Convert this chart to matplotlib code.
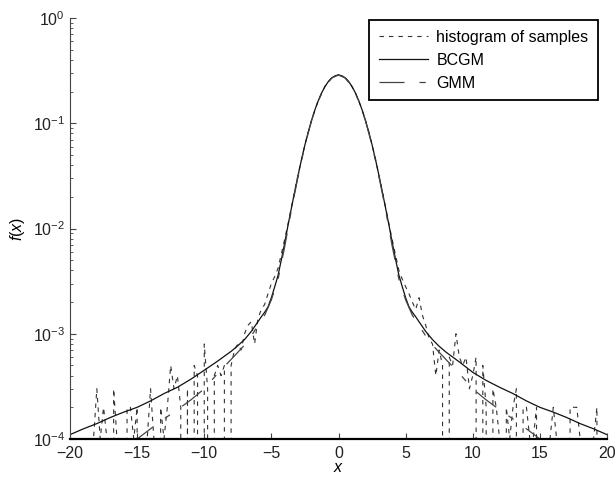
import numpy as np
import matplotlib
matplotlib.use('Agg')
import matplotlib.pyplot as plt

plt.rcParams['font.family'] = ['Liberation Sans', 'DejaVu Sans']
plt.rcParams['mathtext.fontset'] = 'custom'
plt.rcParams['mathtext.rm'] = 'Liberation Sans'
plt.rcParams['mathtext.it'] = 'Liberation Sans:italic'

# BCGM fit (heavy tails)
bcgm_x = [-20, -19, -18, -17, -16, -15, -14, -13, -12, -11, -10, -9, -8, -7.5, -7, -6.5, -6,
          -5.75, -5.5, -5.25, -5, -4.75, -4.5, -4.25, -4, -3.75, -3.5, -3.25, -3, -2.75,
          -2.5, -2.25, -2, -1.75, -1.5, -1.25, -1, -0.75, -0.5, -0.25, 0,
          0.25, 0.5, 0.75, 1, 1.25, 1.5, 1.75, 2, 2.25, 2.5, 2.75, 3, 3.25, 3.5, 3.75,
          4, 4.25, 4.5, 4.75, 5, 5.25, 5.5, 5.75, 6, 6.5, 7, 7.5, 8, 9, 10, 11, 12,
          13, 14, 15, 16, 17, 18, 19, 20]
bcgm_y = [0.00011, 0.000125, 0.00014, 0.00016, 0.00018, 0.00020, 0.00023, 0.00027, 0.00031,
          0.00037, 0.00045, 0.00055, 0.00068, 0.00077, 0.00088, 0.00105, 0.0013,
          0.00145, 0.0016, 0.0018, 0.0022, 0.0028, 0.0036, 0.0051, 0.0074, 0.0109,
          0.0158, 0.0228, 0.0325, 0.0456, 0.0624, 0.0829, 0.1073, 0.1349, 0.1646,
          0.1950, 0.2241, 0.2497, 0.2698, 0.2826, 0.287,
          0.2826, 0.2698, 0.2497, 0.2241, 0.1950, 0.1646, 0.1349, 0.1073, 0.0829,
          0.0624, 0.0456, 0.0325, 0.0228, 0.0158, 0.0109, 0.0074, 0.0051, 0.0036,
          0.0028, 0.0022, 0.0018, 0.0016, 0.00145, 0.0013, 0.00105, 0.00088, 0.00076,
          0.00067, 0.00054, 0.00043, 0.00036, 0.00031, 0.00027, 0.00023, 0.00020,
          0.00018, 0.00016, 0.00014, 0.000125, 0.00011]

# GMM fit (lighter tails)
gmm_x = [-20, -19, -18, -17, -16, -15, -14, -13, -12, -11, -10, -9, -8, -7, -6.5, -6, -5.5,
         -5, -4.5, -4, -3.5, -3, -2.5, -2, -1.5, -1, -0.5, 0, 0.5, 1, 1.5, 2, 2.5, 3,
         3.5, 4, 4.5, 5, 5.5, 6, 6.5, 7, 8, 9, 10, 11, 12, 13, 14, 15, 16, 17, 18, 19, 20]
gmm_y = [0.00003, 0.00004, 0.00005, 0.000065, 0.00008, 0.0001, 0.000125, 0.000155, 0.00019,
         0.000235, 0.0003, 0.00042, 0.00057, 0.00078, 0.00095, 0.0012, 0.0015,
         0.0021, 0.0033, 0.0068, 0.0152, 0.0318, 0.0618, 0.1068, 0.1642, 0.2238,
         0.2695, 0.287, 0.2695, 0.2238, 0.1642, 0.1068, 0.0618, 0.0318, 0.0152, 0.0068,
         0.0033, 0.0021, 0.0015, 0.0012, 0.00095, 0.00078, 0.00057, 0.00042, 0.0003,
         0.000235, 0.00019, 0.000155, 0.000125, 0.0001, 0.00008, 0.000065, 0.00005,
         0.00004, 0.00003]

# histogram of samples, bins of 0.25 from -20 to 20
hist_x = np.linspace(-20, 20, 161)
hist_left = [1e-4, 1e-4, 0, 1e-4, 1e-4, 0, 1e-4, 1e-4, 3e-4, 1e-4, 2e-4, 1e-4,
             0, 3e-4, 1e-4, 1e-4, 0, 2e-4, 2e-4, 1e-4, 2e-4, 0, 1e-4, 1e-4,
             3e-4, 1e-4, 0, 2e-4, 1e-4, 2e-4, 5e-4, 3e-4, 4e-4, 2e-4, 0, 3e-4,
             0, 5e-4, 4e-4, 0, 8e-4, 3e-4, 0, 4e-4, 5e-4, 4e-4, 5e-4, 0,
             5e-4, 7e-4, 8e-4, 7e-4, 10e-4, 12e-4, 13e-4, 8e-4, 14e-4, 17e-4, 19e-4, 24e-4]
hist_center = [0.0030, 0.0035, 0.0042, 0.0058, 0.0080, 0.0112, 0.0162, 0.0232, 0.0330,
               0.0450, 0.0630, 0.0820, 0.1080, 0.1340, 0.1660, 0.1940, 0.2250, 0.2490,
               0.2710, 0.2820, 0.2880, 0.2810, 0.2700, 0.2500, 0.2230, 0.1960, 0.1640,
               0.1350, 0.1070, 0.0835, 0.0620, 0.0460, 0.0322, 0.0230, 0.0160, 0.0111,
               0.0078, 0.0056, 0.0040, 0.0033, 0.0028]
hist_right = [24e-4, 20e-4, 17e-4, 22e-4, 15e-4, 12e-4, 9e-4, 8e-4, 4e-4, 7e-4, 5e-4, 0,
              6e-4, 5e-4, 10e-4, 6e-4, 5e-4, 6e-4, 3e-4, 4e-4, 6e-4, 0, 5e-4, 2e-4,
              0, 3e-4, 2e-4, 1e-4, 0, 2e-4, 1e-4, 2e-4, 3e-4, 0, 2e-4, 2e-4,
              1e-4, 1e-4, 2e-4, 0, 1e-4, 1e-4, 1e-4, 2e-4, 1e-4, 1e-4, 1e-4, 0,
              2e-4, 2e-4, 2e-4, 1e-4, 1e-4, 1e-4, 1e-4, 1e-4, 2e-4, 0, 1e-4, 1e-4]
hist_y = np.array(hist_left + hist_center + hist_right)

fig = plt.figure(figsize=(6.16, 4.79), dpi=100)
ax = fig.add_axes([70 / 616, 40 / 479, 537 / 616, 421 / 479])

ax.plot(hist_x, hist_y, color='#333333', lw=0.8, dashes=(4, 4.5), label='histogram of samples')
ax.plot(bcgm_x, bcgm_y, color='#111111', lw=0.9, label='BCGM')
ax.plot(gmm_x, gmm_y, color='#444444', lw=0.9, dashes=(20, 12, 5, 12), label='GMM')

ax.set_yscale('log')
ax.set_xlim(-20, 20)
ax.set_ylim(1e-4, 1)
ax.set_xticks([-20, -15, -10, -5, 0, 5, 10, 15, 20])
ax.set_xticklabels(['\u221220', '\u221215', '\u221210', '\u22125', '0', '5', '10', '15', '20'])

ax.spines['top'].set_visible(False)
ax.spines['right'].set_visible(False)
ax.spines['left'].set_color('#444444')
ax.spines['bottom'].set_linewidth(1.6)
ax.tick_params(which='both', direction='in', labelsize=11.5, color='#444444',
               labelcolor='#222222')
ax.tick_params(which='major', length=4)
ax.tick_params(which='minor', length=2.5)
ax.tick_params(axis='x', pad=5)

ax.set_xlabel(r'$x$', fontsize=11.5, labelpad=-1)
ax.set_ylabel(r'$f(x)$', fontsize=11.5, labelpad=4)

leg = ax.legend(loc='upper right', bbox_to_anchor=(598 / 616, 1 - 20 / 479),
                bbox_transform=fig.transFigure, borderaxespad=0, fontsize=11.5,
                handlelength=3.1, handletextpad=0.5, fancybox=False, framealpha=1,
                edgecolor='black', borderpad=0.6, labelspacing=0.5)
leg.get_frame().set_linewidth(1.3)

fig.savefig('out.png', dpi=100)
